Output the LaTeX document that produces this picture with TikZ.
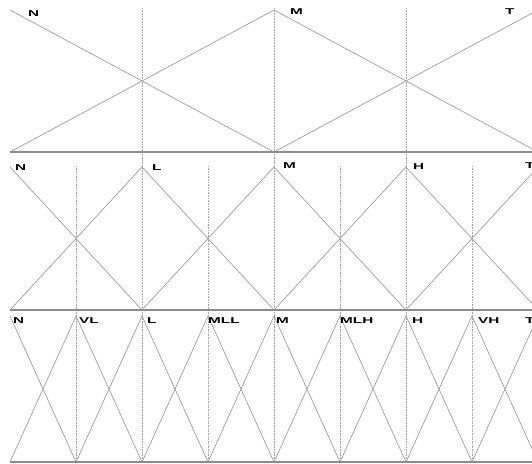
\documentclass[tikz,border=0pt]{standalone}
\usepackage{fontspec}
\setmainfont{Liberation Sans}
\usetikzlibrary{math}
\tikzset{
 mf/.style={color=black!38, line width=0.7},
 baseln/.style={color=black!45, line width=1.2},
 guide/.style={color=black!35, densely dotted, line width=0.6},
 lab/.style={anchor=west, inner sep=0pt, font=\fontsize{8.5}{9}\selectfont\bfseries},
}
\newcommand{\wlab}[1]{\scalebox{1.8}[1]{#1}}

\begin{document}
\begin{tikzpicture}[x=1pt,y=-1pt]
\tikzmath{
\xN=10;
\xR=532;
}
\useasboundingbox (0,0) rectangle (\xR,463);
\clip (0,0) rectangle (\xR,463);

\begin{scope}
\clip (\xN,0) rectangle (\xR,463);

% three sets
\tikzmath{\ytop=10; \ybot=152; \s=264;}
\foreach \i in {0,1,2}{
 \draw[mf] ({\xN+(\i-1)*\s},\ybot) -- ({\xN+\i*\s},\ytop) -- ({\xN+(\i+1)*\s},\ybot);
}
\foreach \x in {142,274,406}{
 \draw[guide] (\x,8) -- (\x,158);
}

% five sets
\tikzmath{\ytop=167; \ybot=310; \s=132;}
\foreach \i in {0,...,4}{
 \draw[mf] ({\xN+(\i-1)*\s},\ybot) -- ({\xN+\i*\s},\ytop) -- ({\xN+(\i+1)*\s},\ybot);
}
\foreach \x in {76,208,340,472}{
 \draw[guide] (\x,166) -- (\x,318);
}
\foreach \x in {142,274,406}{
 \draw[guide] (\x,152) -- (\x,318);
}

% nine sets
\tikzmath{\ytop=316; \ybot=462; \s=66;}
\foreach \i in {0,...,8}{
 \draw[mf] ({\xN+(\i-1)*\s},\ybot) -- ({\xN+\i*\s},\ytop) -- ({\xN+(\i+1)*\s},\ybot);
}
\foreach \x in {76,142,...,472}{
 \draw[guide] (\x,316) -- (\x,462);
}
\end{scope}

\foreach \y in {152,310,462}{
 \draw[baseln] (\xN,\y) -- (\xR,\y);
}

\foreach \x/\y/\t/\nm in {28/14/N/n1, 290/12/M/m1, 505/12/T/t1,
 15/168/N/n2, 152/168/L/l2, 283/166/M/m2, 413/167/H/h2, 525/166/T/t2,
 13/321/N/n3, 79/321/VL/vl3, 147/321/L/l3, 208/321/MLL/mll3, 276/321/M/m3,
 340/321/MLH/mlh3, 412/321/H/h3, 478/321/VH/vh3, 525/321/T/t3}{
 \node[lab] (\nm) at (\x,\y) {\wlab{\t}};
}
\end{tikzpicture}
\end{document}
